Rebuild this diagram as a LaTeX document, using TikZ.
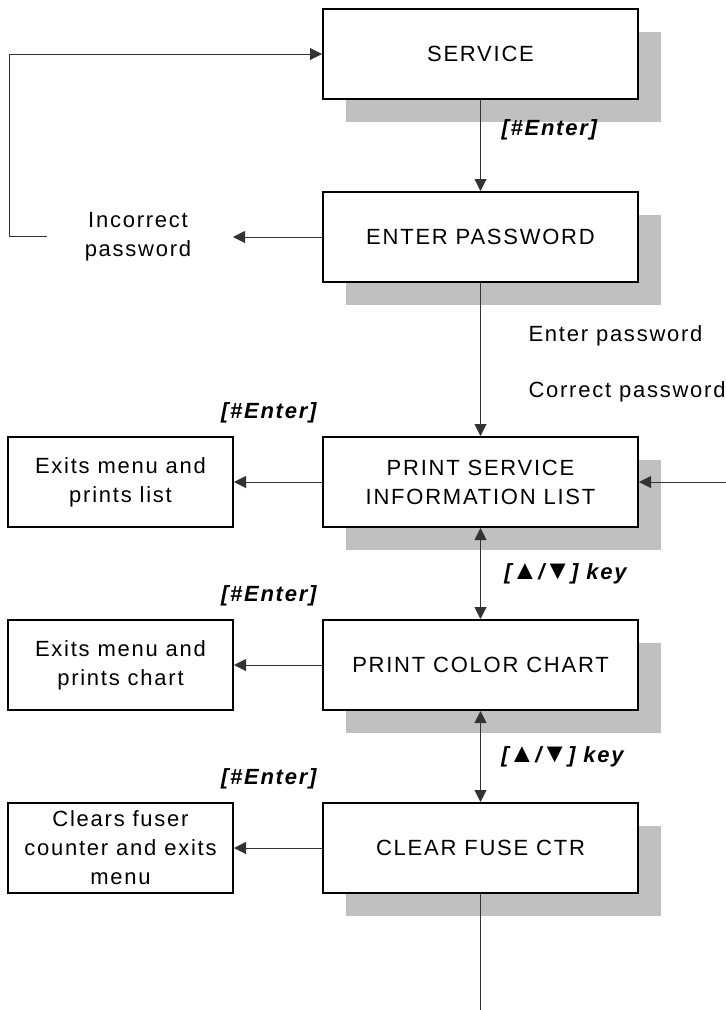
\documentclass[tikz,border=0pt]{standalone}
\usepackage{fontspec}
\setmainfont{Liberation Sans}[LetterSpace=8]
\usetikzlibrary{calc, shadows, arrows.meta}
\definecolor{shadegray}{RGB}{192,192,192}

\begin{document}
\begin{tikzpicture}[x=1pt, y=-1pt, >={Triangle[length=12pt,width=12pt]},
    txt/.style={font=\fontsize{22}{29}\selectfont, align=center, text=black},
    menubox/.style={txt, draw, line width=2pt, fill=white, minimum width=315pt, minimum height=90pt,
        drop shadow={shadow xshift=23pt, shadow yshift=-23pt, opacity=1, fill=shadegray}},
    resultbox/.style={txt, draw, line width=2pt, minimum width=225pt, minimum height=90pt},
    keytxt/.style={font=\fontsize{22}{29}\selectfont\bfseries\itshape, text=black},
    flow/.style={line width=1pt, black!80}]

        % page size of the reference
        \useasboundingbox (0,0) rectangle (726,1010);

        % the menu column
        \node[menubox] (service) at (480.5,54)  {SERVICE};
        \node[menubox] (passwd)  at (480.5,237) {ENTER PASSWORD};
        \node[menubox] (plist)   at (480.5,482) {PRINT SERVICE\\INFORMATION LIST};
        \node[menubox] (pcolor)  at (480.5,665) {PRINT COLOR CHART};
        \node[menubox] (clear)   at (480.5,848) {CLEAR FUSE CTR};

        % what [#Enter] does
        \node[resultbox] (exits1) at (120.5,482) {Exits menu and\\prints list};
        \node[resultbox] (exits2) at (120.5,665) {Exits menu and\\prints chart};
        \node[resultbox] (exits3) at (120.5,848) {Clears fuser\\counter and exits\\menu};

        % free ends
        \node[txt] (wrong) at (138,237) {Incorrect\\password};
        \coordinate (wrongtip)  at (233,237);
        \coordinate (loopstart) at (47,236);
        \coordinate (rightin)   at (726,482);
        \coordinate (bottomend) at (480.5,1010);

        % password branch
        \draw[flow, ->] (service.south) -- (passwd.north);
        \node[keytxt, anchor=west] at (498,130) {[\#Enter]};
        \draw[flow, ->] (passwd.west) -- (wrongtip);
        \draw[flow, ->] (loopstart) -- (9,236) |- (service.west);
        \draw[flow, ->] (passwd.south) -- (plist.north);
        \node[txt, anchor=west] at (525,336) {Enter password};
        \node[txt, anchor=west] at (525,392) {Correct password};
        \draw[flow, ->] (rightin) -- (plist.east);

        % up and down keys
        \draw[flow, <->] (plist.south) -- (pcolor.north)
            node[keytxt, midway, right=20pt] {[{\fontsize{27}{29}\selectfont ▲}/{\fontsize{27}{29}\selectfont ▼}] key};
        \draw[flow, <->] (pcolor.south) -- (clear.north)
            node[keytxt, midway, right=17pt] {[{\fontsize{27}{29}\selectfont ▲}/{\fontsize{27}{29}\selectfont ▼}] key};
        \draw[flow] (clear.south) -- (bottomend);

        % enter on each item
        \foreach \m/\e in {plist/exits1, pcolor/exits2, clear/exits3} {
                \draw[flow, ->] (\m.west) -- (\e.east);
                \node[keytxt, anchor=east] at ($(\m.north west)+(-2,-23)$) {[\#Enter]};
        }

\end{tikzpicture}
\end{document}
